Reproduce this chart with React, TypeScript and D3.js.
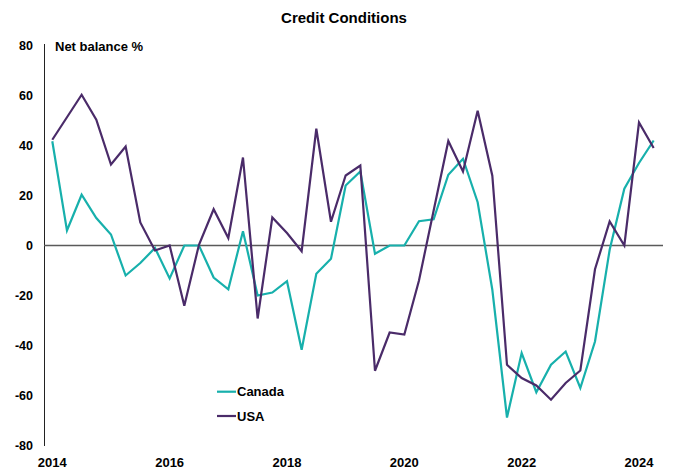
import React from 'react';
import * as d3 from 'd3';

// quarterly net balance %, 2014 Q1 .. 2024 Q2
const canada = [
  41.7, 6, 20.3, 11, 4.4, -12, -7, -1, -13.2, 0, 0, -12.8, -17.5, 5.7,
  -20, -18.8, -14.3, -41.7, -11.3, -5.3, 24, 29.6, -3.3, 0, 0, 9.7, 10.5, 28.3,
  34.7, 17.3, -17.7, -68.8, -43, -58.7, -47.7, -42.4, -57, -38.4, -1.7, 22.7, 33, 42,
];
const usa = [
  42.3, 51.3, 60.3, 50.3, 32.4, 39.6, 9.2, -2, 0, -24.1, 0.3, 14.5, 3, 35.2,
  -29.2, 11.2, 5, -2.3, 46.7, 9.5, 28, 32, -50.1, -34.8, -35.6, -14, 14, 41.8,
  29.6, 53.9, 27.9, -47.7, -53, -56, -61.7, -55, -50, -9.5, 9.6, 0, 49.2, 39,
];
const yTicks = [80, 60, 40, 20, 0, -20, -40, -60, -80];
const xTicks = [2014, 2016, 2018, 2020, 2022, 2024];
const seriesNames = ['Canada', 'USA'];
const colors = ['#17b0ac', '#4a2b69'];

const font = '"Liberation Sans", Arial, sans-serif';

export default function App() {
  const x = d3.scaleLinear().domain([2014, 2024]).range([52.3, 639]);
  const y = d3.scaleLinear().domain([-80, 80]).range([445.5, 45.5]);

  const line = d3
    .line<number>()
    .x((_, i) => x(2014 + i / 4))
    .y((d) => y(d));

  const series = [canada, usa];

  return (
    <svg width={678} height={471} style={{ position: 'absolute', left: 0, top: 0 }}>
      <rect width={678} height={471} fill="#fff" />
      <text x={344} y={23} textAnchor="middle" fontFamily={font} fontWeight="bold" fontSize={15}>
        Credit Conditions
      </text>
      <text x={55} y={51} fontFamily={font} fontWeight="bold" fontSize={13}>
        Net balance %
      </text>

      {/* y axis */}
      <line x1={44.5} x2={44.5} y1={44} y2={446} stroke="#222" strokeWidth={1} />
      {yTicks.map((t) => (
        <text
          key={t}
          x={33}
          y={y(t)}
          dy="0.35em"
          textAnchor="end"
          fontFamily={font}
          fontWeight="bold"
          fontSize={12.5}
        >
          {t}
        </text>
      ))}

      {/* zero line */}
      <line x1={44} x2={663} y1={y(0)} y2={y(0)} stroke="#5a5a5a" strokeWidth={1.3} />

      {xTicks.map((t) => (
        <text
          key={t}
          x={x(t)}
          y={467}
          textAnchor="middle"
          fontFamily={font}
          fontWeight="bold"
          fontSize={13}
        >
          {t}
        </text>
      ))}

      {series.map((s, i) => (
        <path key={seriesNames[i]} d={line(s) || ''} fill="none" stroke={colors[i]} strokeWidth={2.2} strokeLinejoin="miter" />
      ))}

      {/* legend */}
      {seriesNames.map((n, i) => (
        <g key={n} transform={`translate(217,${391.7 + i * 24.3})`}>
          <line x1={0} x2={19} y1={0} y2={0} stroke={colors[i]} strokeWidth={2.2} />
          <text x={20} y={0} dy="0.35em" fontFamily={font} fontWeight="bold" fontSize={13}>
            {n}
          </text>
        </g>
      ))}
    </svg>
  );
}
